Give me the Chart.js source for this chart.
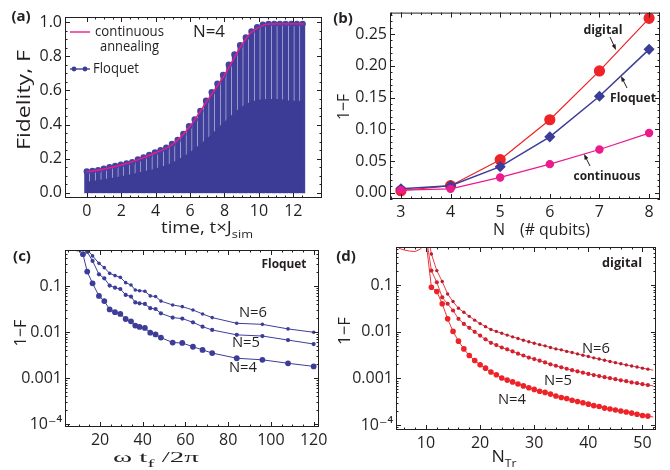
<!DOCTYPE html>
<html>
<head>
<meta charset="utf-8">
<script src="https://cdn.jsdelivr.net/npm/chart.js@4.4.1/dist/chart.umd.min.js"></script>
<style>
  body { margin: 0; background: #fff; }
  #wrap { position: relative; width: 670px; height: 470px; overflow: hidden; }
  canvas { position: absolute; left: 0; top: 0; }
</style>
</head>
<body>
<div id="wrap">
  <canvas id="pa" width="670" height="470"></canvas>
  <canvas id="pb" width="670" height="470"></canvas>
  <canvas id="pc" width="670" height="470"></canvas>
  <canvas id="pd" width="670" height="470"></canvas>
</div>
<script>
// ---- (a) fidelity vs time, N=4 ----
const floqT = [0, 0.33, 0.66, 0.99, 1.32, 1.65, 1.98, 2.31, 2.64, 2.97, 3.3, 3.63, 3.96,
  4.29, 4.62, 4.95, 5.28, 5.61, 5.94, 6.27, 6.6, 6.93, 7.26, 7.59, 7.92, 8.25, 8.58,
  8.91, 9.24, 9.57, 9.9, 10.23, 10.56, 10.89, 11.22, 11.55, 11.88, 12.21, 12.54];
const floqF = [0.125, 0.128, 0.133, 0.142, 0.15, 0.157, 0.165, 0.172, 0.18, 0.196, 0.208,
  0.222, 0.237, 0.25, 0.265, 0.286, 0.31, 0.345, 0.39, 0.43, 0.48, 0.54, 0.59, 0.64,
  0.69, 0.75, 0.81, 0.865, 0.91, 0.945, 0.97, 0.985, 0.99, 0.99, 0.99, 0.99, 0.99, 0.99, 0.99];
const contT = [0, 1, 2, 3, 4, 5, 6, 7, 8, 9, 9.5, 10, 10.5, 11, 12.6];
const contF = [0.123, 0.14, 0.163, 0.195, 0.235, 0.285, 0.39, 0.54, 0.69, 0.865, 0.935, 0.97, 0.988, 0.99, 0.99];
const bandT = [0, 1, 2, 3, 4, 5, 6, 7, 8, 9, 10, 11, 12, 12.6];
const bandF = [0.065, 0.08, 0.098, 0.12, 0.143, 0.18, 0.24, 0.32, 0.417, 0.505, 0.545, 0.55, 0.54, 0.54];
const aXTicks = [0, 2, 4, 6, 8, 10, 12];
const aXLabels = ['0', '2', '4', '6', '8', '10', '12'];
const aYTicks = [0, 0.2, 0.4, 0.6, 0.8, 1.0];
const aYLabels = ['0.0', '0.2', '0.4', '0.6', '0.8', '1.0'];

// ---- (b) infidelity vs number of qubits ----
const qubits = [3, 4, 5, 6, 7, 8];
const errDigital = [0.003, 0.011, 0.052, 0.115, 0.192, 0.275];
const errFloquet = [0.006, 0.011, 0.041, 0.088, 0.152, 0.226];
const errContinuous = [0.004, 0.006, 0.024, 0.045, 0.068, 0.094];
const bXTicks = [3, 4, 5, 6, 7, 8];
const bXLabels = ['3', '4', '5', '6', '7', '8'];
const bYTicks = [0, 0.05, 0.1, 0.15, 0.2, 0.25];
const bYLabels = ['0.00', '0.05', '0.10', '0.15', '0.20', '0.25'];

// ---- (c) Floquet, 1-F vs omega t_f / 2pi ----
const omegaT = [9.5, 12, 14, 16.5, 19.5, 22, 24.5, 27, 29.5, 32, 34.5, 36.5, 38.5, 41, 43.5,
  46, 48.5, 54, 58.5, 63.5, 68, 72.5, 84, 96, 108, 120];
const floq4 = [0.65, 0.49, 0.205, 0.114, 0.061, 0.047, 0.031, 0.027, 0.0247, 0.0192, 0.0171,
  0.0138, 0.0129, 0.0123, 0.0097, 0.0089, 0.0076, 0.0059, 0.0058, 0.0048, 0.0041, 0.0035,
  0.0027, 0.0025, 0.0021, 0.0018];
const floq5 = [null, 0.8, 0.55, 0.35, 0.179, 0.147, 0.102, 0.092, 0.086, 0.064, 0.059, 0.044,
  0.042, 0.0407, 0.033, 0.0317, 0.0255, 0.0206, 0.0196, 0.0163, 0.0131, 0.0111, 0.0087,
  0.0082, 0.0067, 0.0055];
const floq6 = [null, 0.95, 0.62, 0.45, 0.31, 0.25, 0.188, 0.168, 0.154, 0.118, 0.105, 0.082,
  0.079, 0.077, 0.061, 0.059, 0.047, 0.0387, 0.0356, 0.0302, 0.0247, 0.0206, 0.0155,
  0.0147, 0.0117, 0.0099];
const cXTicks = [20, 40, 60, 80, 100, 120];
const cXLabels = ['20', '40', '60', '80', '100', '120'];
const logTicks = [1e-4, 1e-3, 1e-2, 0.1];
const logLabels = ['10\u207B\u2074', '0.001', '0.01', '0.1'];

// ---- (d) digital, 1-F vs number of Trotter steps ----
const nTr = [5, 6, 7, 8, 9, 10, 11, 12, 13, 14, 15, 16, 17, 18, 19, 20, 21, 22, 23, 24, 25, 26,
  27, 28, 29, 30, 31, 32, 33, 34, 35, 36, 37, 38, 39, 40, 41, 42, 43, 44, 45, 46, 47, 48,
  49, 50, 51, 52];
const dig4 = [0.62, 0.57, 0.54, 0.53, 0.6, 0.9, 0.0906, 0.073, 0.04, 0.019, 0.0102, 0.0063,
  0.0043, 0.0031, 0.00243, 0.00196, 0.00166, 0.00137, 0.0012, 0.00102, 0.00092, 0.00084,
  0.00076, 0.00069, 0.00063, 0.00058, 0.00053, 0.0005, 0.00046, 0.00042, 0.00039, 0.00037,
  0.00034, 0.00032, 0.0003, 0.00028, 0.00026, 0.00025, 0.00023, 0.00022, 0.00021, 0.0002,
  0.00019, 0.00018, 0.00017, 0.00016, 0.000155, 0.000148];
const dig5 = [null, null, null, null, null, 1.2, 0.206, 0.116, 0.055, 0.04, 0.0287, 0.019,
  0.0148, 0.0122, 0.01, 0.0083, 0.0069, 0.0058, 0.0052, 0.0046, 0.0042, 0.0038, 0.0034,
  0.0031, 0.0028, 0.0026, 0.0024, 0.0022, 0.002, 0.00187, 0.00173, 0.00161, 0.0015, 0.00141,
  0.00133, 0.00125, 0.00118, 0.00112, 0.00106, 0.00101, 0.00096, 0.00091, 0.00087, 0.00082,
  0.00079, 0.00075, 0.00072, 0.00069];
const dig6 = [null, null, null, null, null, 2.0, 0.47, 0.206, 0.12, 0.065, 0.0446, 0.032,
  0.0263, 0.0215, 0.0178, 0.015, 0.0129, 0.0112, 0.0102, 0.0093, 0.0085, 0.0078, 0.0072,
  0.0066, 0.0061, 0.0057, 0.0053, 0.005, 0.0046, 0.0043, 0.0041, 0.0038, 0.0036, 0.00336,
  0.00314, 0.00295, 0.00276, 0.0026, 0.00245, 0.00231, 0.00218, 0.00206, 0.00195, 0.00185,
  0.00175, 0.00166, 0.00158, 0.0015];
const dXTicks = [10, 20, 30, 40, 50];
const dXLabels = ['10', '20', '30', '40', '50'];

const INK = '#231f20';
const BLUE = '#3c3d99';
const PINK = '#ec1a8c';
const RED = '#ee2328';
const SANS = '"Open Sans", "DejaVu Sans", sans-serif';
const SERIF = '"Liberation Serif", "DejaVu Serif", serif';

Chart.defaults.font.family = SANS;
Chart.defaults.font.size = 15;
Chart.defaults.color = INK;
Chart.defaults.animation = false;
Chart.defaults.events = [];
Chart.defaults.plugins.legend.display = false;
Chart.defaults.plugins.tooltip.enabled = false;

const xy = (xs, ys) => xs.map((x, i) => ({ x, y: ys[i] }));

function put(ctx, s, x, y, o = {}) {
  ctx.save();
  ctx.font = `${o.bold ? 'bold ' : ''}${o.size || 15}px ${o.family || SANS}`;
  ctx.fillStyle = o.color || INK;
  ctx.textAlign = 'center';
  ctx.textBaseline = 'middle';
  ctx.translate(x, y);
  if (o.rot) ctx.rotate(o.rot);
  if (o.w) ctx.scale(o.w / ctx.measureText(s).width, 1);
  ctx.fillText(s, 0, 0);
  ctx.restore();
}

// text with subscripts: parts = [[text, isSub], ...]
function runs(ctx, parts, cx, y, o = {}) {
  const size = o.size || 15, fam = o.family || SANS;
  ctx.save();
  ctx.fillStyle = INK;
  ctx.textBaseline = 'alphabetic';
  ctx.textAlign = 'left';
  const fonts = parts.map(p => `${p[1] ? Math.round(size * 0.7) : size}px ${fam}`);
  const widths = parts.map((p, i) => { ctx.font = fonts[i]; return ctx.measureText(p[0]).width; });
  const total = widths.reduce((a, b) => a + b, 0);
  const k = o.w ? o.w / total : 1;
  let x = cx - total * k / 2;
  parts.forEach((p, i) => {
    ctx.font = fonts[i];
    ctx.save();
    ctx.translate(x, y + (p[1] ? size * 0.3 : 0));
    ctx.scale(k, 1);
    ctx.fillText(p[0], 0, 0);
    ctx.restore();
    x += widths[i] * k;
  });
  ctx.restore();
}

function arrow(ctx, x1, y1, x2, y2) {
  const a = Math.atan2(y2 - y1, x2 - x1);
  ctx.save();
  ctx.strokeStyle = INK; ctx.fillStyle = INK; ctx.lineWidth = 1;
  ctx.beginPath(); ctx.moveTo(x1, y1); ctx.lineTo(x2 - 3 * Math.cos(a), y2 - 3 * Math.sin(a)); ctx.stroke();
  ctx.beginPath();
  ctx.moveTo(x2, y2);
  ctx.lineTo(x2 - 6 * Math.cos(a - 0.35), y2 - 6 * Math.sin(a - 0.35));
  ctx.lineTo(x2 - 6 * Math.cos(a + 0.35), y2 - 6 * Math.sin(a + 0.35));
  ctx.closePath(); ctx.fill();
  ctx.restore();
}

function minorValues(sc, step) {
  const out = [];
  if (step === 'log') {
    for (let d = Math.floor(Math.log10(sc.min)); d <= Math.ceil(Math.log10(sc.max)); d++) {
      for (let m = 2; m < 10; m++) {
        const v = m * Math.pow(10, d);
        if (v >= sc.min && v <= sc.max) out.push(v);
      }
    }
  } else {
    for (let v = Math.ceil(sc.min / step) * step; v <= sc.max; v += step) out.push(v);
  }
  return out;
}

// frame with inward ticks on all four sides, plus panel texts
function frame(xMinor, yMinor, notes) {
  return {
    id: 'frame',
    afterDatasetsDraw(chart) {
      const { ctx, chartArea: a, scales: { x, y } } = chart;
      ctx.save();
      ctx.strokeStyle = INK;
      ctx.lineWidth = 1;
      ctx.strokeRect(a.left + 0.5, a.top + 0.5, a.right - a.left - 1, a.bottom - a.top - 1);
      ctx.beginPath();
      const vt = (v, len) => {
        const p = Math.round(x.getPixelForValue(v)) + 0.5;
        ctx.moveTo(p, a.bottom); ctx.lineTo(p, a.bottom - len);
        ctx.moveTo(p, a.top); ctx.lineTo(p, a.top + len);
      };
      const ht = (v, len) => {
        const p = Math.round(y.getPixelForValue(v)) + 0.5;
        ctx.moveTo(a.left, p); ctx.lineTo(a.left + len, p);
        ctx.moveTo(a.right, p); ctx.lineTo(a.right - len, p);
      };
      x.ticks.forEach(t => vt(t.value, 5));
      y.ticks.forEach(t => ht(t.value, 5));
      minorValues(x, xMinor).forEach(v => vt(v, 2.5));
      minorValues(y, yMinor).forEach(v => ht(v, 2.5));
      ctx.stroke();
      ctx.restore();
    },
    afterDraw(chart) { notes(chart.ctx, chart); }
  };
}

function axis(type, min, max, ticks, labels, isX) {
  return {
    type, min, max,
    grid: { display: false, drawTicks: false },
    border: { display: false },
    ticks: { autoSkip: false, maxRotation: 0, padding: isX ? 4 : 3, font: { size: 16 }, color: INK, callback: (v, i) => labels[i] },
    afterBuildTicks: s => { s.ticks = ticks.map(value => ({ value })); },
    afterFit: s => { if (isX) s.height = 32; else s.width = 50; }
  };
}

function panel(id, box, datasets, scales, plugin) {
  return new Chart(document.getElementById(id), {
    type: 'line',
    data: { datasets },
    options: {
      responsive: false,
      layout: { padding: { left: box.l - 50, top: box.t, right: 670 - box.r, bottom: 470 - box.b - 32 } },
      scales,
      elements: { point: { radius: 0, borderWidth: 0 }, line: { borderWidth: 1 } }
    },
    plugins: [plugin]
  });
}

// ---------- (a) ----------
panel('pa', { l: 65, t: 17, r: 322, b: 198 }, [
  { data: xy(contT, contF), borderColor: PINK, borderWidth: 1.4, cubicInterpolationMode: 'monotone', order: 0 },
  { data: xy(floqT, floqF), showLine: false, pointRadius: 3.2, pointBackgroundColor: '#4343a0', order: 1 },
  { data: xy(bandT, bandF), borderWidth: 0, fill: 'origin', backgroundColor: '#3c3c96', cubicInterpolationMode: 'monotone', order: 2 },
  { type: 'bar', data: xy(floqT, floqF), backgroundColor: '#40409a', barThickness: 4.5, grouped: false, order: 3 },
  { data: xy(floqT, floqF), borderWidth: 0, fill: 'origin', backgroundColor: '#e4e4f3', order: 4 }
], {
  x: axis('linear', -0.2, 12.6, aXTicks, aXLabels, true),
  y: axis('linear', -0.03, 1.03, aYTicks, aYLabels, false)
}, frame(0.5, 0.05, (ctx) => {
  put(ctx, '(a)', 21, 17, { bold: true, size: 15 });
  ctx.save();
  ctx.strokeStyle = PINK; ctx.lineWidth = 1.4;
  ctx.beginPath(); ctx.moveTo(70, 32); ctx.lineTo(90, 32); ctx.stroke();
  ctx.strokeStyle = BLUE; ctx.fillStyle = BLUE;
  ctx.beginPath(); ctx.moveTo(70, 69); ctx.lineTo(90, 69); ctx.stroke();
  [74, 85].forEach(px => { ctx.beginPath(); ctx.arc(px, 69, 2.4, 0, Math.PI * 2); ctx.fill(); });
  ctx.restore();
  put(ctx, 'continuous', 129.5, 32, { w: 69 });
  put(ctx, 'annealing', 129.5, 47, { w: 59 });
  put(ctx, 'Floquet', 116, 69, { w: 46 });
  put(ctx, 'N=4', 209, 32, { size: 16, w: 32 });
  put(ctx, 'Fidelity, F', 24.5, 100, { size: 18, rot: -Math.PI / 2, w: 100 });
  runs(ctx, [['time, t\u00D7J', false], ['sim', true]], 207, 233, { size: 16, w: 92 });
}));

// ---------- (b) ----------
panel('pb', { l: 390, t: 10, r: 660, b: 199 }, [
  { data: xy(qubits, errDigital), borderColor: RED, borderWidth: 1.2, pointRadius: 5, pointBackgroundColor: RED, order: 2 },
  { data: xy(qubits, errFloquet), borderColor: BLUE, borderWidth: 1.5, pointStyle: 'rectRot', pointRadius: 4.5, pointBackgroundColor: BLUE, order: 1 },
  { data: xy(qubits, errContinuous), borderColor: PINK, borderWidth: 1.2, pointRadius: 3.6, pointBackgroundColor: PINK, order: 0 }
], {
  x: axis('linear', 2.78, 8.22, bXTicks, bXLabels, true),
  y: axis('linear', -0.01, 0.284, bYTicks, bYLabels, false)
}, frame(0.2, 0.01, (ctx) => {
  put(ctx, '(b)', 343, 18.5, { bold: true, size: 15 });
  put(ctx, 'digital', 603, 30, { bold: true, size: 13, w: 39 });
  put(ctx, 'Floquet', 633, 98, { bold: true, size: 13, w: 46 });
  put(ctx, 'continuous', 607, 176, { bold: true, size: 13, w: 67 });
  arrow(ctx, 610, 37, 616, 50);
  arrow(ctx, 627, 88, 621, 76);
  arrow(ctx, 590, 166, 584, 154);
  put(ctx, '1\u2212F', 344, 107, { size: 17, rot: -Math.PI / 2, w: 26 });
  put(ctx, 'N', 499, 230, { size: 16 });
  put(ctx, '(# qubits)', 555, 230, { size: 16, w: 70 });
}));

// ---------- (c) ----------
panel('pc', { l: 65, t: 250, r: 319, b: 427 }, [
  { data: xy(omegaT, floq6), borderColor: BLUE, pointRadius: 1.8, pointBackgroundColor: BLUE, clip: 0 },
  { data: xy(omegaT, floq5), borderColor: BLUE, pointRadius: 2.1, pointBackgroundColor: BLUE, clip: 0 },
  { data: xy(omegaT, floq4), borderColor: BLUE, pointRadius: 2.9, pointBackgroundColor: BLUE, clip: 0 }
], {
  x: axis('linear', 3.6, 122.5, cXTicks, cXLabels, true),
  y: axis('logarithmic', 8.7e-5, 0.604, logTicks, logLabels, false)
}, frame(5, 'log', (ctx) => {
  put(ctx, '(c)', 22, 256.5, { bold: true, size: 15 });
  put(ctx, 'Floquet', 284, 264, { bold: true, size: 13, w: 45 });
  put(ctx, 'N=6', 253, 313, { size: 15, w: 28 });
  put(ctx, 'N=5', 246, 343, { size: 15, w: 28 });
  put(ctx, 'N=4', 243, 368, { size: 15, w: 28 });
  put(ctx, '1\u2212F', 21, 333, { size: 17, rot: -Math.PI / 2, w: 27 });
  runs(ctx, [['\u03C9 t', false], ['f', true], [' /2\u03C0', false]], 156, 462, { size: 15, family: SERIF, w: 86 });
}));

// ---------- (d) ----------
const markAt = (lo, hi, r) => c => (c.raw && c.raw.x >= lo && c.raw.x <= hi) ? r : 0;
panel('pd', { l: 396, t: 247, r: 656, b: 430 }, [
  { data: xy(nTr, dig6), borderColor: '#e8404a', pointRadius: markAt(11, 51, 1.7), pointBackgroundColor: '#b81d2d', clip: 0 },
  { data: xy(nTr, dig5), borderColor: '#e8404a', pointRadius: markAt(11, 51, 2.1), pointBackgroundColor: '#d41f2e', clip: 0 },
  { data: xy(nTr, dig4), borderColor: '#ee3038', pointRadius: markAt(11, 51, 2.8), pointBackgroundColor: RED, clip: 0 }
], {
  x: axis('linear', 4.46, 52.5, dXTicks, dXLabels, true),
  y: axis('logarithmic', 7.8e-5, 0.662, logTicks, logLabels, false)
}, frame(2, 'log', (ctx) => {
  put(ctx, '(d)', 346, 256.5, { bold: true, size: 15 });
  put(ctx, 'digital', 622, 263, { bold: true, size: 13, w: 40 });
  put(ctx, 'N=6', 596, 349, { size: 15, w: 28 });
  put(ctx, 'N=5', 558, 381, { size: 15, w: 28 });
  put(ctx, 'N=4', 512, 400, { size: 15, w: 28 });
  put(ctx, '1\u2212F', 345.5, 331, { size: 17, rot: -Math.PI / 2, w: 28 });
  runs(ctx, [['N', false], ['Tr', true]], 504, 462, { size: 16, w: 25 });
}));
</script>
</body>
</html>
